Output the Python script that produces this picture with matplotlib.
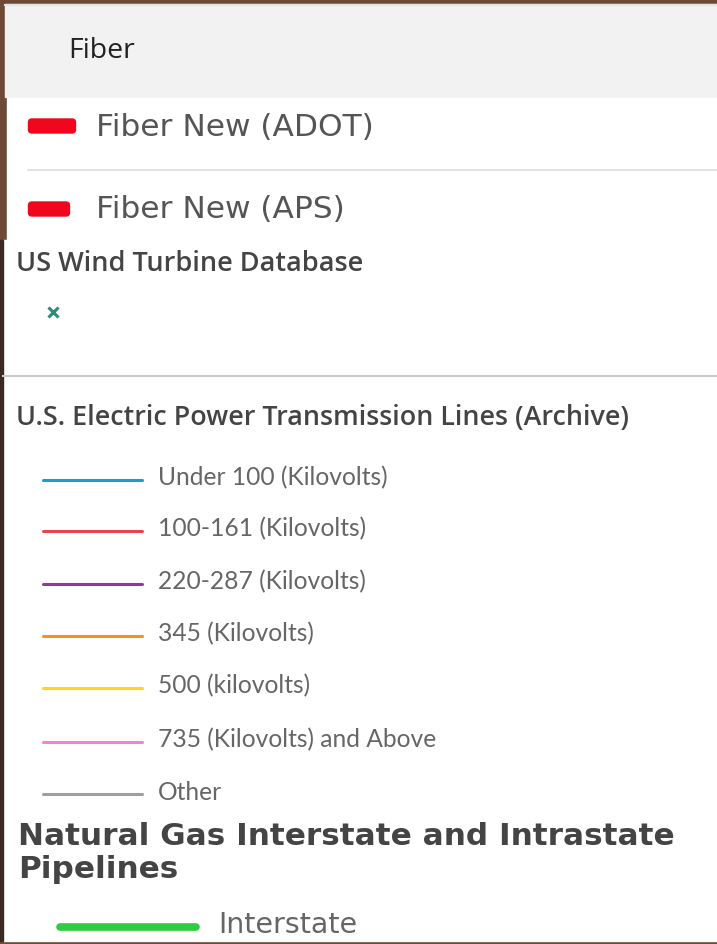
import matplotlib
matplotlib.use("Agg")
import matplotlib.pyplot as plt
from matplotlib.patches import Rectangle, FancyBboxPatch

# ---- data ----
header_title = "Fiber"
fiber_labels = ["Fiber New (ADOT)", "Fiber New (APS)"]
fiber_colors = ["#f0061d", "#f0061d"]
wind_title = "US Wind Turbine Database"
wind_marker_color = "#2e8b76"
tx_title = "U.S. Electric Power Transmission Lines (Archive)"
tx_labels = ["Under 100 (Kilovolts)", "100-161 (Kilovolts)", "220-287 (Kilovolts)",
             "345 (Kilovolts)", "500 (kilovolts)", "735 (Kilovolts) and Above", "Other"]
tx_colors = ["#1a9cd6", "#e8454e", "#8c3c94", "#f7901e", "#fcd81a", "#f77fd6", "#9e9e9e"]
gas_title = "Natural Gas Interstate and Intrastate\nPipelines"
gas_labels = ["Interstate"]
gas_colors = ["#2ecc40"]

W, H = 717, 944
fig = plt.figure(figsize=(W / 100, H / 100), dpi=100)
ax = fig.add_axes([0, 0, 1, 1])
ax.set_xlim(0, W)
ax.set_ylim(H, 0)
ax.axis("off")

brown = "#6d4936"
# background frame
ax.add_patch(Rectangle((0, 0), W, H, color=brown, zorder=0))
# top header panel
ax.add_patch(Rectangle((5, 4), W - 5, 93, color="#f2f2f2", zorder=1))
ax.plot([5, W], [4.5, 4.5], color="#e4e4e4", lw=1.5, zorder=2)
# white upper items panel
ax.add_patch(Rectangle((7, 98), W - 7, 142, color="white", zorder=1))
# lower white panel
ax.add_patch(Rectangle((3, 240), W - 3, 701, color="white", zorder=1))
ax.add_patch(Rectangle((0, 240), 3, 701, color="#3b2a22", zorder=1))

ax.text(68, 51, header_title, fontsize=20.5, family="Open Sans", color="#222222",
        va="center", ha="left", zorder=3)

fy = [126, 209]
fw = [48, 42]
for lab, col, y, w in zip(fiber_labels, fiber_colors, fy, fw):
    ax.add_patch(FancyBboxPatch((28 + 4, y - 4.5 + 1), w - 8, 9 - 2,
                                boxstyle="round,pad=3.5", color=col, zorder=3,
                                mutation_aspect=1))
    ax.text(96, y + 1, lab, fontsize=22.5, family="DejaVu Sans", color="#555555",
            va="center", ha="left", zorder=3)
ax.plot([28, W], [170, 170], color="#dddddd", lw=1.2, zorder=2)

ax.text(16, 264, wind_title, fontsize=19.5, family="Open Sans", fontweight="semibold",
        color="#444444", va="center", ha="left", zorder=3)
ax.plot([53], [312], marker="x", ms=7, mew=2.2, color=wind_marker_color, zorder=3)
ax.plot([3, W], [376, 376], color="#cccccc", lw=1.5, zorder=2)

ax.text(16, 418, tx_title, fontsize=19.35, family="Open Sans", fontweight="semibold",
        color="#444444", va="center", ha="left", zorder=3)
ty = [480, 531, 584, 636, 688, 742, 794]
for lab, col, y in zip(tx_labels, tx_colors, ty):
    ax.plot([43, 142], [y, y], color=col, lw=2.2, solid_capstyle="round", zorder=3)
    ax.text(158, y - 2, lab, fontsize=17.7, family="Lato", color="#666666",
            va="center", ha="left", zorder=3)

ax.text(18, 853, gas_title, fontsize=22.4, family="DejaVu Sans", fontweight="bold",
        color="#444444", va="center", ha="left", zorder=3, linespacing=1.2)
for lab, col in zip(gas_labels, gas_colors):
    ax.plot([60, 196], [927, 927], color=col, lw=5.5, solid_capstyle="round", zorder=3)
    ax.text(218, 925, lab, fontsize=20.5, family="DejaVu Sans", color="#666666",
            va="center", ha="left", zorder=3)

fig.savefig("out.png", dpi=100)
